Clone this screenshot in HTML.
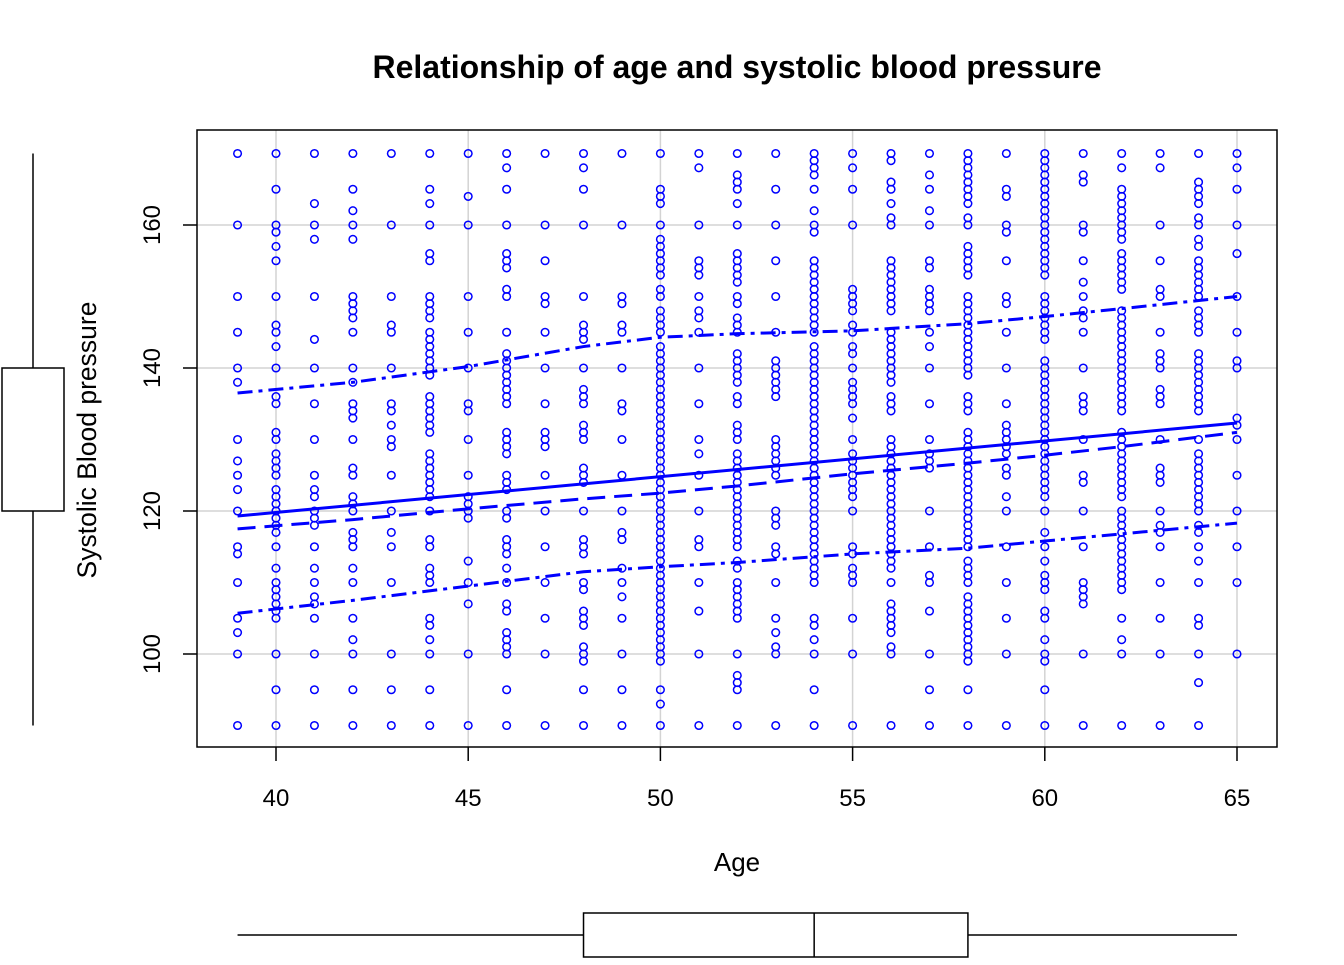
<!DOCTYPE html>
<html><head><meta charset="utf-8"><style>
body{margin:0;background:#fff}
svg text{font-family:"Liberation Sans",Arial,sans-serif}
</style></head><body>
<svg id="chart" width="1344" height="960" xmlns="http://www.w3.org/2000/svg">
<rect width="1344" height="960" fill="#fff"/>
<text x="737" y="78" text-anchor="middle" font-size="32" font-weight="bold">Relationship of age and systolic blood pressure</text>
<g id="grid"></g>
<g id="points"></g>
<g id="lines"></g>
<rect x="197" y="130" width="1080" height="617" fill="none" stroke="#000" stroke-width="1.5"/>
<g id="axes"></g>
<text x="737" y="871" text-anchor="middle" font-size="26">Age</text>
<text transform="translate(96,440) rotate(-90)" text-anchor="middle" font-size="26.5">Systolic Blood pressure</text>
<g id="boxes"></g>
</svg>
<script>
const ages=[39,40,41,42,43,44,45,46,47,48,49,50,51,52,53,54,55,56,57,58,59,60,61,62,63,64,65];
const bpByAge=[
[170,160,150,145,140,138,130,127,125,123,120,115,114,110,105,103,100,90],
[170,165,160,159,157,155,150,146,145,143,140,136,135,131,130,128,127,126,125,123,122,121,120,119,118,117,115,112,110,109,108,107,106,105,100,95,90],
[170,163,160,158,150,144,140,135,130,125,123,122,120,119,118,115,112,110,108,107,105,100,95,90],
[170,165,162,160,158,150,149,148,147,145,140,138,135,134,133,130,126,125,122,121,120,117,116,115,112,110,105,102,100,95,90],
[170,160,150,146,145,140,135,134,132,130,129,125,120,117,115,110,100,95,90],
[170,165,163,160,156,155,150,149,148,147,145,144,143,142,141,140,139,136,135,134,133,132,131,128,127,126,125,124,123,122,120,116,115,112,111,110,105,104,102,100,95,90],
[170,164,160,150,145,140,135,134,130,125,122,121,120,119,113,110,107,100,90],
[170,168,165,160,156,155,154,151,150,145,142,141,140,139,138,137,136,135,131,130,129,128,125,124,123,120,119,116,115,114,112,110,107,106,103,102,101,100,95,90],
[170,160,155,150,149,145,140,135,131,130,129,125,120,115,110,105,100,90],
[170,168,165,160,150,146,145,144,140,137,136,135,132,131,130,126,125,124,120,116,115,114,110,109,106,105,104,101,100,99,95,90],
[170,160,150,149,146,145,140,135,134,130,125,120,117,116,112,110,108,105,100,95,90],
[170,165,164,163,160,158,157,156,155,154,153,151,150,148,147,146,145,143,142,141,140,139,138,137,136,135,134,133,132,131,130,129,128,127,126,125,124,123,122,121,120,119,118,117,116,115,114,113,112,111,110,109,108,107,106,105,104,103,102,101,100,99,95,93,90],
[170,168,160,155,154,153,150,148,147,145,140,135,130,128,125,120,116,115,110,106,100,90],
[170,167,166,165,163,160,156,155,154,153,152,150,149,147,146,145,142,141,140,139,138,136,135,132,131,130,128,127,126,125,124,123,122,121,120,119,118,117,116,115,113,112,110,109,108,107,106,105,100,97,96,95,90],
[170,165,160,155,150,145,141,140,139,138,137,136,130,129,128,127,126,125,120,119,118,115,114,110,105,103,101,100,90],
[170,169,168,167,165,162,160,159,155,154,153,152,151,150,149,148,147,146,145,143,142,141,140,139,138,137,136,135,134,133,132,131,130,129,128,127,126,125,124,123,122,121,120,119,118,117,116,115,114,113,112,111,110,105,104,102,100,95,90],
[170,168,165,160,151,150,149,148,146,145,143,142,140,138,137,136,135,133,130,128,127,126,125,124,123,122,120,115,114,112,111,110,105,100,90],
[170,169,166,165,163,161,160,155,154,153,152,151,150,149,148,145,144,143,142,141,140,139,138,136,135,134,130,129,128,127,126,125,124,123,122,121,120,119,118,117,116,115,114,113,112,110,107,106,105,104,103,101,100,90],
[170,167,165,162,160,155,154,151,150,149,148,145,143,140,135,130,128,127,126,120,115,111,110,106,100,95,90],
[170,169,168,167,166,165,164,163,161,160,157,156,155,154,153,150,149,148,147,146,145,144,143,142,141,140,139,136,135,134,131,130,129,128,127,126,125,124,123,122,121,120,119,118,117,116,115,113,112,111,110,108,107,106,105,104,103,102,101,100,99,95,90],
[170,165,164,160,159,155,150,149,145,140,135,132,131,130,129,128,126,125,122,120,115,110,105,100,90],
[170,169,168,167,166,165,164,163,162,161,160,159,158,157,156,155,154,153,150,149,148,147,146,145,144,141,140,139,138,137,136,135,134,133,132,131,130,129,128,127,126,125,124,123,122,120,117,115,113,111,110,109,106,105,102,100,99,95,90],
[170,167,166,160,159,155,152,150,148,147,145,140,136,135,134,130,125,124,120,115,110,109,108,107,100,90],
[170,168,165,164,163,162,161,160,159,158,156,155,154,153,152,151,148,147,146,145,144,143,142,141,140,139,138,137,136,135,134,131,130,129,128,127,126,125,124,123,122,120,119,118,117,116,115,114,113,112,111,110,109,105,102,100,90],
[170,168,160,155,151,150,145,142,141,140,137,136,135,130,126,125,124,120,118,117,115,110,105,100,90],
[170,166,165,164,163,161,160,158,157,155,154,153,152,151,150,148,147,146,145,142,141,140,139,138,137,136,135,134,130,128,127,126,125,124,123,122,121,120,118,117,115,113,110,105,104,100,96,90],
[170,168,165,160,156,150,145,141,140,133,132,130,125,120,115,110,100]
];
const xTicks=[40,45,50,55,60,65];
const yTicks=[100,120,140,160];
const fitX=[39,65];
const fitY=[119.3,132.3];
const smoothX=[39,42,45,48,50,52,55,58,60,62,65];
const smoothMid=[117.5,118.8,120.3,121.7,122.5,123.5,125.2,126.7,127.8,129,131];
const smoothUpper=[136.5,138,140.2,143,144.3,144.8,145.2,146.2,147.2,148.3,150];
const smoothLower=[105.7,107.5,109.5,111.5,112.2,112.8,114,114.8,115.8,116.8,118.3];
const ageBox=[39,48,54,58,65];
const bpBox=[90,120,130,140,170];

const NS="http://www.w3.org/2000/svg";
const sx=v=>276+(v-40)*38.44;
const sy=v=>225-(v-160)*7.15;
function mk(tag,attrs,parent){const e=document.createElementNS(NS,tag);for(const k in attrs)e.setAttribute(k,attrs[k]);document.getElementById(parent).appendChild(e);return e;}

xTicks.forEach(t=>{
 const g=mk('line',{x1:sx(t),x2:sx(t),y1:130,y2:747,stroke:'#d3d3d3','stroke-width':1.5},'grid');
 
 
 const tk=mk('line',{x1:sx(t),x2:sx(t),y1:747,y2:761,stroke:'#000','stroke-width':1.5},'axes');
 
 
 const l=mk('text',{x:sx(t),y:806,'text-anchor':'middle','font-size':24},'axes');
 l.textContent=t;
 
 
});
yTicks.forEach(t=>{
 const g=mk('line',{x1:197,x2:1277,y1:sy(t),y2:sy(t),stroke:'#d3d3d3','stroke-width':1.5},'grid');
 
 
 const tk=mk('line',{x1:183,x2:197,y1:sy(t),y2:sy(t),stroke:'#000','stroke-width':1.5},'axes');
 
 
 const l=mk('text',{transform:`translate(160,${sy(t)}) rotate(-90)`,'text-anchor':'middle','font-size':24},'axes');
 l.textContent=t;
 
 
});
ages.forEach((a,i)=>{
 bpByAge[i].forEach(v=>{
  const c=mk('circle',{cx:sx(a),cy:sy(v),r:3.8,fill:'none',stroke:'#0000ff','stroke-width':1.5},'points');
  
  
 });
});
function pl(xs,ys,dash,w,name){
 const p=mk('polyline',{points:xs.map((x,i)=>sx(x)+','+sy(ys[i])).join(' '),fill:'none',stroke:'#0000ff','stroke-width':w,'stroke-dasharray':dash},'lines');
 
 
}
pl(fitX,fitY,'none',3,'regression-line');
pl(smoothX,smoothMid,'18,9',3,'smooth-line');
pl(smoothX,smoothUpper,'15,6,4,6',3,'smooth-upper-line');
pl(smoothX,smoothLower,'15,6,4,6',3,'smooth-lower-line');

const st={stroke:'#000','stroke-width':1.5,fill:'none'};
let e;
e=mk('line',Object.assign({x1:33,x2:33,y1:sy(bpBox[0]),y2:sy(bpBox[1])},st),'boxes');


e=mk('line',Object.assign({x1:33,x2:33,y1:sy(bpBox[3]),y2:sy(bpBox[4])},st),'boxes');


e=mk('rect',Object.assign({x:2,width:62,y:sy(bpBox[3]),height:sy(bpBox[1])-sy(bpBox[3])},st),'boxes');


e=mk('line',Object.assign({x1:sx(ageBox[0]),x2:sx(ageBox[1]),y1:935,y2:935},st),'boxes');


e=mk('line',Object.assign({x1:sx(ageBox[3]),x2:sx(ageBox[4]),y1:935,y2:935},st),'boxes');


e=mk('rect',Object.assign({x:sx(ageBox[1]),width:sx(ageBox[3])-sx(ageBox[1]),y:913,height:44},st),'boxes');


e=mk('line',Object.assign({x1:sx(ageBox[2]),x2:sx(ageBox[2]),y1:913,y2:957},st),'boxes');


</script>
</body></html>
